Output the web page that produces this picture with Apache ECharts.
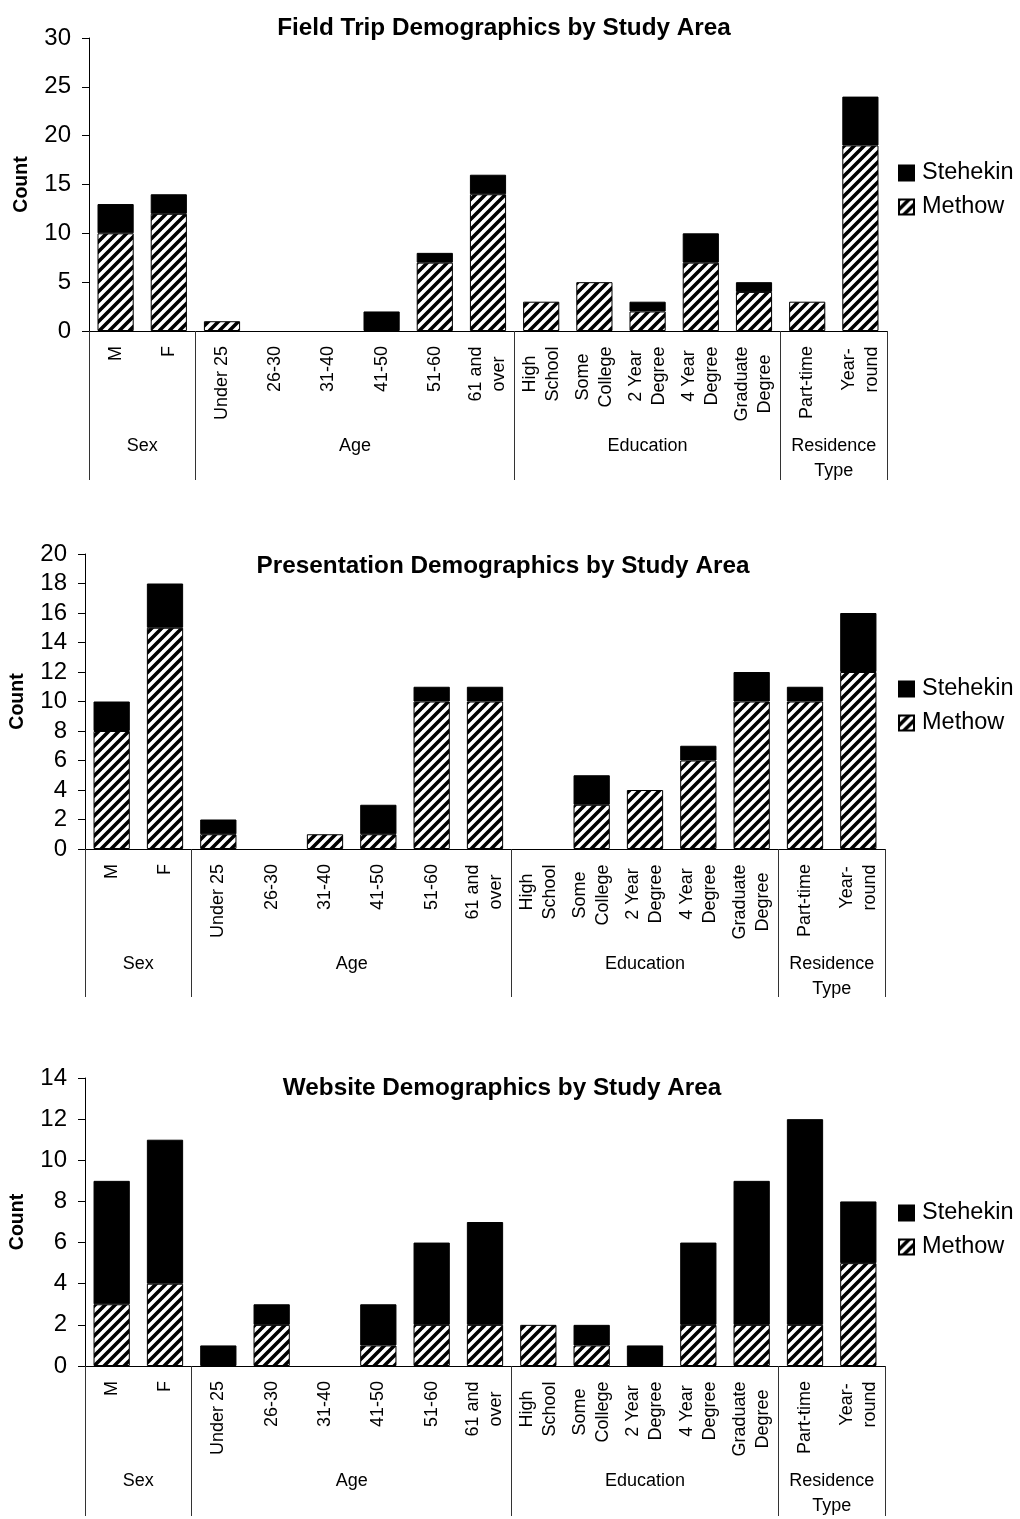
<!DOCTYPE html>
<html>
<head>
<meta charset="utf-8">
<script src="https://cdn.jsdelivr.net/npm/echarts@6/dist/echarts.min.js"></script>
<style>
  html, body { margin: 0; padding: 0; background: #fff; }
  #chart { width: 1020px; height: 1519px; }
</style>
</head>
<body>
<div id="chart"></div>
<script>
// ---------- DATA ----------
const categories = ['M', 'F', 'Under 25', '26-30', '31-40', '41-50', '51-60', '61 and\nover',
  'High\nSchool', 'Some\nCollege', '2 Year\nDegree', '4 Year\nDegree', 'Graduate\nDegree',
  'Part-time', 'Year-\nround'];
const groupNames = ['Sex', 'Age', 'Education', 'Residence\nType'];
const groupSizes = [2, 6, 5, 2];
const seriesNames = ['Stehekin', 'Methow'];

const chartTitles = ['Field Trip Demographics by Study Area',
  'Presentation Demographics by Study Area',
  'Website Demographics by Study Area'];
const yAxisName = 'Count';
const yMax = [30, 20, 14];
const yStep = [5, 2, 2];

const fieldTripMethow   = [10, 12, 1, 0, 0, 0, 7, 14, 3, 5, 2, 7, 4, 3, 19];
const fieldTripStehekin = [3, 2, 0, 0, 0, 2, 1, 2, 0, 0, 1, 3, 1, 0, 5];
const presentationMethow   = [8, 15, 1, 0, 1, 1, 10, 10, 0, 3, 4, 6, 10, 10, 12];
const presentationStehekin = [2, 3, 1, 0, 0, 2, 1, 1, 0, 2, 0, 1, 2, 1, 4];
const websiteMethow   = [3, 4, 0, 2, 0, 1, 2, 2, 2, 1, 0, 2, 2, 2, 5];
const websiteStehekin = [6, 7, 1, 1, 0, 2, 4, 5, 0, 1, 1, 4, 7, 10, 3];

const methowSets = [fieldTripMethow, presentationMethow, websiteMethow];
const stehekinSets = [fieldTripStehekin, presentationStehekin, websiteStehekin];

// ---------- LAYOUT / STYLE ----------
const FONT = '"Liberation Sans", Arial, sans-serif';
const grids = [
  { left: 89, right: 133, top: 38, height: 293 },
  { left: 85, right: 135, top: 554, height: 295 },
  { left: 79, right: 135, top: 1078, height: 295 }
];
const titleTops = [16, 554, 1076];
const titleCenters = [504, 503, 502];
const legendTops = [161, 677, 1201];
const sepLen = [149, 148, 150];

// group boundaries and midpoints derived from group sizes
const bounds = [0];
groupSizes.forEach(s => bounds.push(bounds[bounds.length - 1] + s));
const mids = groupNames.map((_, i) => (bounds[i] + bounds[i + 1]) / 2);

// hatch pattern
function makeHatch() {
  const s = 10;
  const c = document.createElement('canvas');
  c.width = s; c.height = s;
  const g = c.getContext('2d');
  g.fillStyle = '#fff';
  g.fillRect(0, 0, s, s);
  g.strokeStyle = '#000';
  g.lineWidth = 3.6;
  g.beginPath();
  for (const o of [-s, 0, s]) {
    g.moveTo(o - 1, s + 1);
    g.lineTo(o + s + 1, -1);
  }
  g.stroke();
  return c;
}
const hatch = makeHatch();

// category label rich styles (center multi-line labels against each other)
const LBL_SIZE = 18, LBL_LH = 23;
const mctx = document.createElement('canvas').getContext('2d');
mctx.font = LBL_SIZE + 'px ' + FONT;
const rich = {};
categories.forEach((c, i) => {
  if (c.indexOf('\n') >= 0) {
    const w = Math.max(...c.split('\n').map(l => mctx.measureText(l).width));
    rich['m' + i] = { width: Math.ceil(w), align: 'center', fontSize: LBL_SIZE, fontFamily: FONT, color: '#000', lineHeight: LBL_LH };
  }
});

const noZero = arr => arr.map(v => (v === 0 ? '-' : v));

const chart = echarts.init(document.getElementById('chart'), null, { renderer: 'canvas' });

const option = {
  animation: false,
  backgroundColor: '#fff',
  textStyle: { fontFamily: FONT, color: '#000' },
  title: chartTitles.map((t, k) => ({
    text: t, left: titleCenters[k], top: titleTops[k], textAlign: 'center', padding: 0,
    textStyle: { fontFamily: FONT, fontWeight: 'bold', fontSize: 24.3, color: '#000' }
  })),
  legend: legendTops.map(t => ({
    data: seriesNames, orient: 'vertical', left: 898, top: t, padding: 0,
    itemWidth: 15, itemHeight: 15, itemGap: 10, icon: 'rect', selectedMode: false,
    textStyle: { fontFamily: FONT, fontSize: 23.5, color: '#000', lineHeight: 24, padding: [0, 0, 0, 3] }
  })),
  grid: grids.map(g => Object.assign({ containLabel: false }, g)),
  xAxis: [],
  yAxis: [],
  series: []
};

grids.forEach((g, k) => {
  option.xAxis.push({
    type: 'category', gridIndex: k, data: categories, position: 'bottom',
    axisLine: { show: true, lineStyle: { color: '#000', width: 1 } },
    axisTick: { show: false },
    axisLabel: {
      interval: 0, rotate: 90, margin: 15, fontSize: LBL_SIZE, fontFamily: FONT, color: '#000',
      lineHeight: LBL_LH, hideOverlap: false, rich: rich,
      formatter: (v, i) => v.indexOf('\n') >= 0 ? v.split('\n').map(l => '{m' + i + '|' + l + '}').join('\n') : v
    },
    splitLine: { show: false }
  });
  option.xAxis.push({
    type: 'value', gridIndex: k, min: 0, max: categories.length, position: 'bottom',
    axisLine: { show: false },
    axisTick: { show: true, inside: false, length: sepLen[k], customValues: bounds,
      lineStyle: { color: '#333', width: 1 } },
    axisLabel: {
      show: true, customValues: mids, margin: 103, fontSize: LBL_SIZE, fontFamily: FONT,
      color: '#000', lineHeight: 25, align: 'center',
      formatter: v => { const i = mids.indexOf(v); return i >= 0 ? groupNames[i] : ''; }
    },
    splitLine: { show: false }
  });
  option.yAxis.push({
    type: 'value', gridIndex: k, min: 0, max: yMax[k], interval: yStep[k],
    name: yAxisName, nameLocation: 'middle', nameGap: 57, nameRotate: 90,
    nameTextStyle: { fontFamily: FONT, fontWeight: 'bold', fontSize: 19.5, color: '#000' },
    axisLine: { show: true, lineStyle: { color: '#000', width: 1 } },
    axisTick: { show: true, length: 7, lineStyle: { color: '#000' } },
    axisLabel: { fontSize: 24, fontFamily: FONT, color: '#000', margin: 18 },
    splitLine: { show: false }
  });
  option.series.push({
    name: 'Methow', type: 'bar', xAxisIndex: 2 * k, yAxisIndex: k, stack: 's' + k,
    barWidth: '68%', data: noZero(methowSets[k]),
    itemStyle: { color: { image: hatch, repeat: 'repeat' }, borderColor: '#000', borderWidth: 1 }
  });
  option.series.push({
    name: 'Stehekin', type: 'bar', xAxisIndex: 2 * k, yAxisIndex: k, stack: 's' + k,
    barWidth: '68%', data: noZero(stehekinSets[k]),
    itemStyle: { color: '#000', borderColor: '#000', borderWidth: 1 }
  });
});

chart.setOption(option);
</script>
</body>
</html>
